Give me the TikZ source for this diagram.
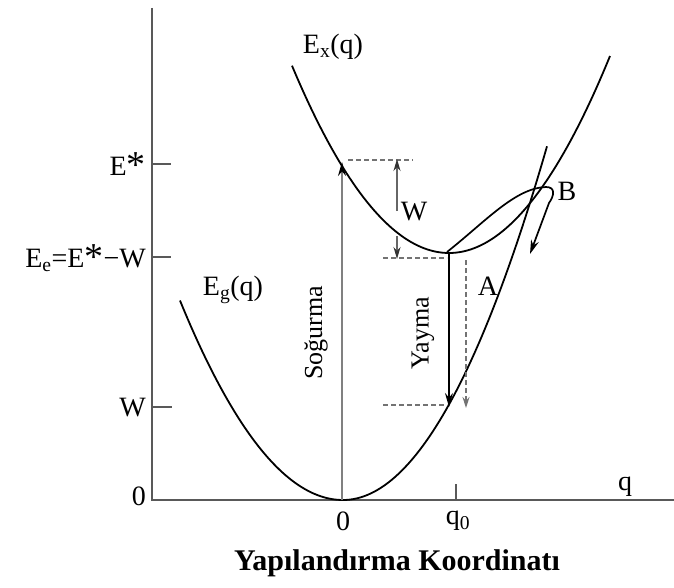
\documentclass[tikz,border=0pt]{standalone}
\usepackage{fontspec}
\setmainfont{Liberation Serif}
\usetikzlibrary{arrows.meta}
\newcommand\bigast{\raisebox{-0.08em}{\fontsize{38}{38}\selectfont *}}
\begin{document}
\begin{tikzpicture}[x=1pt,y=-1pt,
  curve/.style={line width=1.8pt, black},
  axisline/.style={line width=1.6pt, black!65},
  dashline/.style={black!55, line width=1.4pt, dash pattern=on 5pt off 3pt},
  lbl/.style={font=\fontsize{28}{30}\selectfont, inner sep=0pt},
  rlbl/.style={font=\fontsize{26}{28}\selectfont, inner sep=0pt, rotate=90},
  tip/.style={-{Stealth[length=14pt,width=8pt]}},
  smalltip/.style={-{Stealth[length=11pt,width=7pt]}}]
\useasboundingbox (0,0) rectangle (674,588);
% axes
\coordinate (otop) at (152,8);
\coordinate (orig) at (152,500);
\coordinate (xend) at (674,500);
\draw[axisline] (otop) -- (orig) -- (xend);
% ticks
\coordinate (tE1) at (152,164); \coordinate (tE2) at (171,164);
\coordinate (tEe1) at (152,257); \coordinate (tEe2) at (171,257);
\coordinate (tW1) at (152,407); \coordinate (tW2) at (172,407);
\coordinate (tq1) at (456,484); \coordinate (tq2) at (456,500);
\draw[axisline, line width=1.3pt] (tE1) -- (tE2) (tEe1) -- (tEe2) (tW1) -- (tW2) (tq1) -- (tq2);
% curves
\draw[curve] plot[domain=180:343, samples=60] (\x, {500-0.0075*(\x-343)*(\x-343)});
\draw[curve] plot[domain=343:547, samples=60] (\x, {500-0.0085*(\x-343)*(\x-343)});
\draw[curve] plot[domain=292:610, samples=90] (\x, {253-0.0076*(\x-449)*(\x-449)});
% loop to B
\coordinate (lstart) at (447,252);
\coordinate (lend) at (530,254);
\draw[curve, line width=1.7pt, tip] (lstart) .. controls (485,222) and (515,188) .. (546,187)
   .. controls (556,187) and (554,196) .. (549,203) -- (lend);
% dashed lines
\coordinate (d1a) at (348,160); \coordinate (d1b) at (413,160);
\coordinate (d2a) at (383,258); \coordinate (d2b) at (447,258);
\coordinate (d3a) at (383,405); \coordinate (d3b) at (447,405);
\draw[dashline] (d1a) -- (d1b) (d2a) -- (d2b) (d3a) -- (d3b);
\coordinate (dva) at (466,260); \coordinate (dvb) at (466,408);
\draw[dashline, smalltip] (dva) -- (dvb);
% absorption arrow
\coordinate (abs0) at (342,500); \coordinate (abs1) at (342,162);
\draw[black!50, line width=1.4pt, -{Stealth[length=14pt,width=8pt,color=black,fill=black]}] (abs0) -- (abs1);
% emission arrow
\coordinate (em0) at (449,254); \coordinate (em1) at (449,407);
\draw[black, line width=1.2pt, tip] (em0) -- (em1);
% W arrows
\coordinate (w0) at (397,211); \coordinate (w1) at (397,159);
\coordinate (w2) at (397,236); \coordinate (w3) at (397,259);
\draw[black!60, line width=1.4pt, -{Stealth[length=12pt,width=7pt,color=black!80,fill=black!80]}] (w0) -- (w1);
\draw[black!60, line width=1.4pt, -{Stealth[length=12pt,width=7pt,color=black!80,fill=black!80]}] (w2) -- (w3);
% labels
\node[lbl, anchor=east] (lEs) at (146,165) {E\bigast};
\node[lbl, anchor=east] (lEe) at (146,258) {E\textsubscript{e}=E\bigast−W};
\node[lbl, anchor=east] (lW) at (146,408) {W};
\node[lbl, anchor=east] (l0) at (146,496) {0};
\node[lbl] (x0) at (343,521) {0};
\node[lbl] (xq0) at (458,521) {q\textsubscript{0}};
\node[lbl] (xq) at (625,487) {q};
\node[lbl] (lEx) at (333,47) {E\textsubscript{x}(q)};
\node[lbl] (lEg) at (233,290) {E\textsubscript{g}(q)};
\node[lbl] (lWm) at (414,212) {W};
\node[lbl] (lA) at (488,286) {A};
\node[lbl] (lB) at (567,191) {B};
\node[rlbl] (lS) at (316,333) {Soğurma};
\node[rlbl] (lY) at (423,333) {Yayma};
\node[font=\bfseries\fontsize{30}{32}\selectfont, inner sep=0pt] (title) at (397,563) {Yapılandırma Koordinatı};
\end{tikzpicture}
\end{document}
